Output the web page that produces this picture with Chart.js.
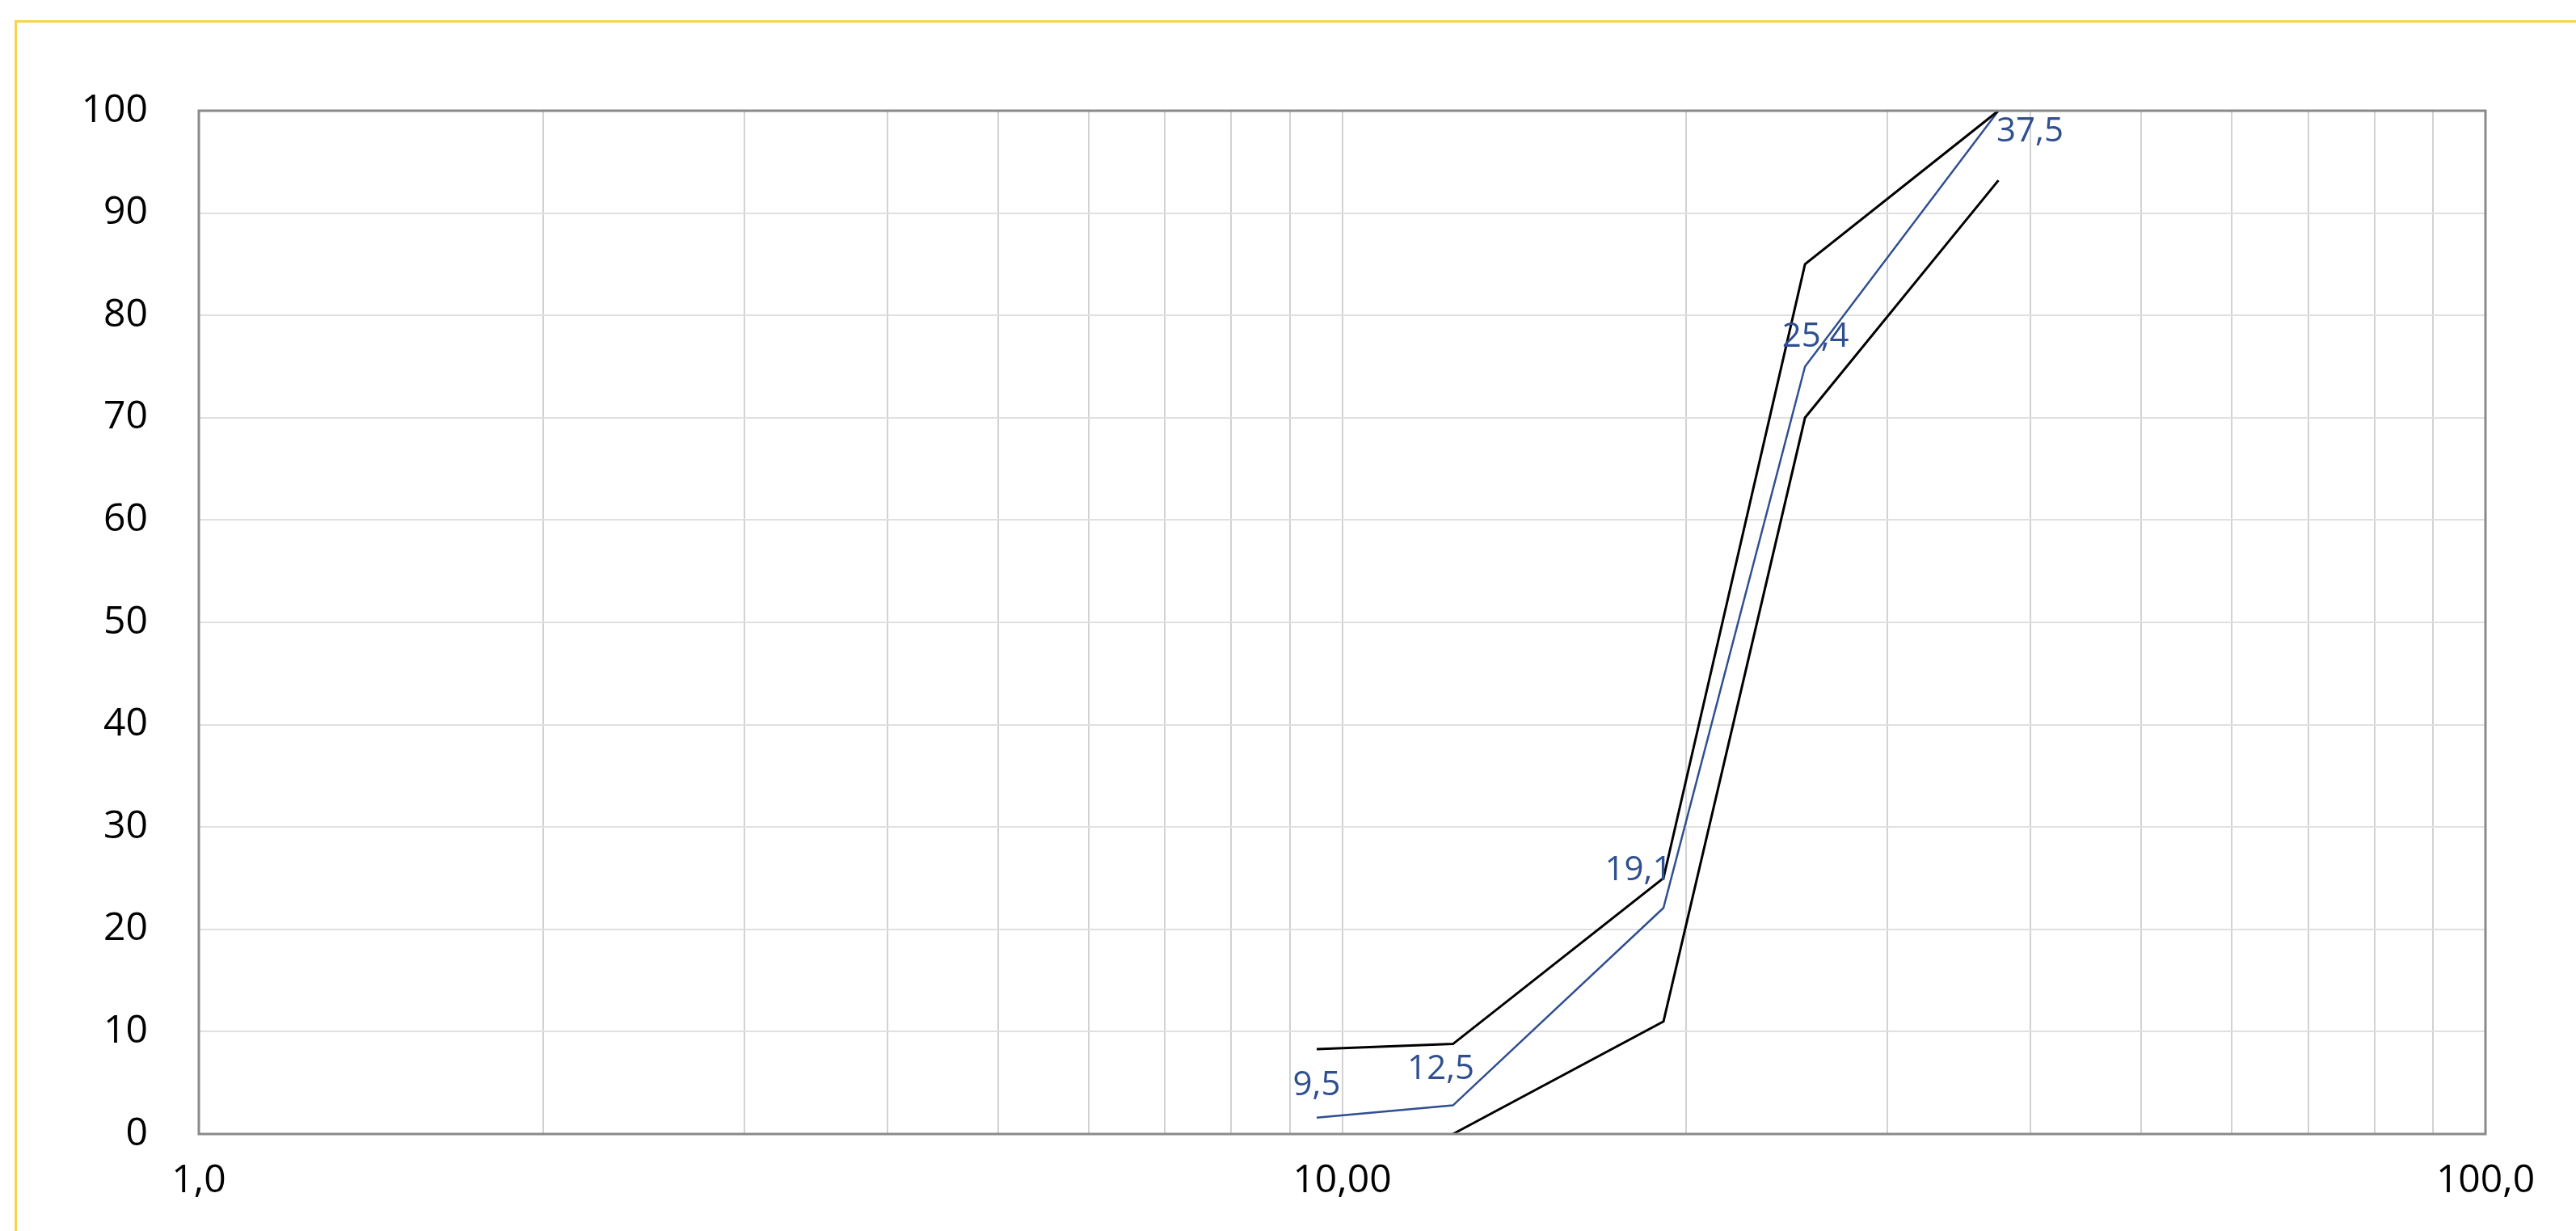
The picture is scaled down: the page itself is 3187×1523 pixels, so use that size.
<!DOCTYPE html>
<html>
<head>
<meta charset="utf-8">
<script src="https://cdn.jsdelivr.net/npm/chart.js@4.4.1/dist/chart.umd.min.js"></script>
<style>
  html, body { margin: 0; padding: 0; background: #fff; overflow: hidden; }
  #wrap { position: absolute; left: 0; top: 0; width: 3187px; height: 1523px; }
  #frame {
    position: absolute; left: 18px; top: 25px; width: 3300px; height: 1600px;
    border: 3px solid #f8d34e; pointer-events: none;
  }
</style>
</head>
<body>
<div id="wrap">
  <canvas id="curveChart" width="3187" height="1523"></canvas>
  <div id="frame"></div>
</div>
<script>
// sieve sizes (mm) and passing %
const sizes      = [9.5, 12.5, 19.1, 25.4, 37.5];
const upperLimit = [8.3, 8.8, 25.0, 85.0, 100];
const passing    = [1.6, 2.8, 22.1, 75.0, 100];
const lowerSizes = [12.5, 19.1, 25.4, 37.5];
const lowerLimit = [0, 11.0, 70.0, 93.2];
const sizeLabels = ['9,5', '12,5', '19,1', '25,4', '37,5'];

const xGridValues = [1, 2, 3, 4, 5, 6, 7, 8, 9, 10, 20, 30, 40, 50, 60, 70, 80, 90, 100];
const xTickLabels = { 1: '1,0', 10: '10,00', 100: '100,0' };
const yTicks      = [0, 10, 20, 30, 40, 50, 60, 70, 80, 90, 100];

// label nudges in px, relative to the point
const labelOffsets = [[0, -40], [-15, -45], [-31, -46], [13, -36], [39, 26]];

const BLUE = '#2f4f8f';
const FONT = "'Open Sans', sans-serif";

const pts = (xs, ys) => xs.map((x, i) => ({ x: x, y: ys[i] }));

const frameBox = {
  id: 'frameBox',
  afterDraw(chart) {
    const a = chart.chartArea;
    const c = chart.ctx;
    c.save();
    c.strokeStyle = '#8a8a8a';
    c.lineWidth = 3;
    c.strokeRect(a.left, a.top, a.right - a.left, a.bottom - a.top);
    c.restore();
  }
};

const pointLabels = {
  id: 'pointLabels',
  afterDatasetsDraw(chart) {
    const meta = chart.getDatasetMeta(1);
    const c = chart.ctx;
    c.save();
    c.font = '42px ' + FONT;
    c.fillStyle = BLUE;
    c.textAlign = 'center';
    c.textBaseline = 'middle';
    meta.data.forEach((p, i) => {
      const off = labelOffsets[i];
      c.fillText(sizeLabels[i], p.x + off[0], p.y + off[1]);
    });
    c.restore();
  }
};

const ctx = document.getElementById('curveChart').getContext('2d');
new Chart(ctx, {
  type: 'line',
  data: {
    datasets: [
      {
        label: 'Upper',
        data: pts(sizes, upperLimit),
        borderColor: '#000',
        borderWidth: 3,
        pointRadius: 0,
        tension: 0,
      },
      {
        label: 'Passing',
        data: pts(sizes, passing),
        borderColor: BLUE,
        borderWidth: 2.5,
        pointRadius: 0,
        tension: 0,
      },
      {
        label: 'Lower',
        data: pts(lowerSizes, lowerLimit),
        borderColor: '#000',
        borderWidth: 3,
        pointRadius: 0,
        tension: 0,
      }
    ]
  },
  options: {
    responsive: false,
    animation: false,
    clip: false,
    layout: { padding: { left: 0, top: 137, right: 112, bottom: 0 } },
    plugins: {
      legend: { display: false },
      tooltip: { enabled: false }
    },
    scales: {
      x: {
        type: 'logarithmic',
        min: 1,
        max: 100,
        afterBuildTicks: s => { s.ticks = xGridValues.map(v => ({ value: v })); },
        afterFit: s => { s.height = 120; },
        border: { display: false },
        grid: {
          drawTicks: false,
          lineWidth: 2,
          color: c => (c.tick && (c.tick.value === 1 || c.tick.value === 100)) ? 'rgba(0,0,0,0)' : '#d2d2d2'
        },
        ticks: {
          autoSkip: false,
          maxRotation: 0,
          padding: 30,
          color: '#000',
          font: { family: FONT, size: 48 },
          callback: v => xTickLabels[v] || ''
        }
      },
      y: {
        min: 0,
        max: 100,
        afterBuildTicks: s => { s.ticks = yTicks.map(v => ({ value: v })); },
        afterFit: s => { s.width = 246; },
        border: { display: false },
        grid: {
          drawTicks: false,
          lineWidth: 2,
          color: c => (c.tick && (c.tick.value === 0 || c.tick.value === 100)) ? 'rgba(0,0,0,0)' : '#e0e0e0'
        },
        ticks: {
          padding: 63,
          color: '#000',
          font: { family: FONT, size: 48 }
        }
      }
    }
  },
  plugins: [frameBox, pointLabels]
});
</script>
</body>
</html>
